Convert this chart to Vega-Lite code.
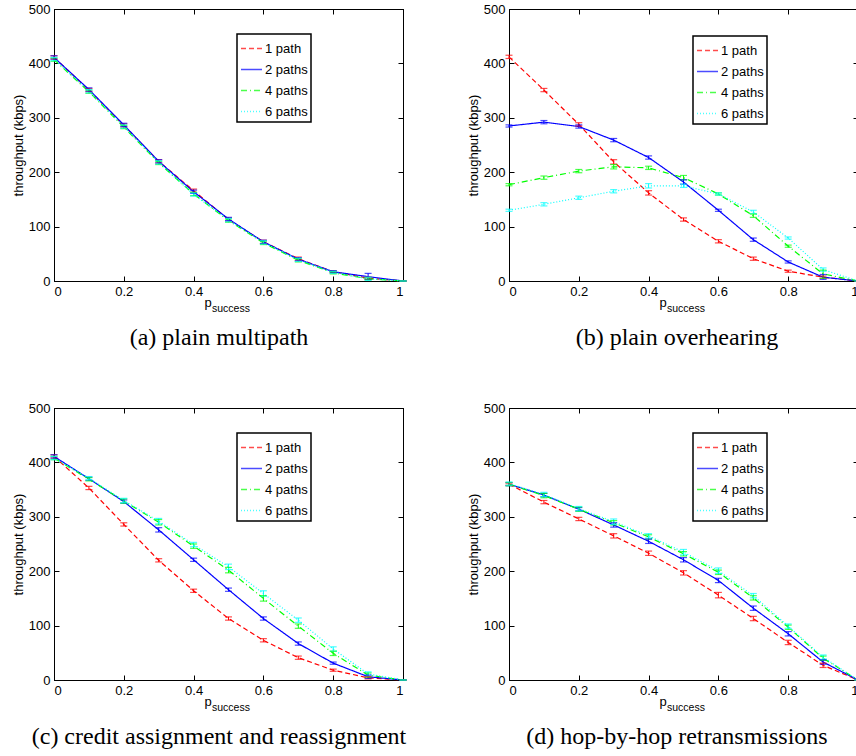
{
 "$schema": "https://vega.github.io/schema/vega-lite/v6.json",
 "padding": {"left": 11, "top": 2, "right": 0, "bottom": 0},
 "background": "white",
 "datasets": {
  "A": [
   {"x":0,"s":"1 path","y":411,"lo":408,"hi":414},{"x":0.1,"s":"1 path","y":351,"lo":348,"hi":354},{"x":0.2,"s":"1 path","y":286,"lo":283,"hi":289},{"x":0.3,"s":"1 path","y":220,"lo":217,"hi":223},{"x":0.4,"s":"1 path","y":166,"lo":163,"hi":169},{"x":0.5,"s":"1 path","y":113,"lo":110,"hi":116},{"x":0.6,"s":"1 path","y":72,"lo":69,"hi":75},{"x":0.7,"s":"1 path","y":41,"lo":38,"hi":44},{"x":0.8,"s":"1 path","y":17,"lo":15,"hi":19},{"x":0.9,"s":"1 path","y":5,"lo":3,"hi":7},{"x":1,"s":"1 path","y":0,"lo":0,"hi":0},
   {"x":0,"s":"2 paths","y":411,"lo":408,"hi":414},{"x":0.1,"s":"2 paths","y":352,"lo":349,"hi":355},{"x":0.2,"s":"2 paths","y":287,"lo":284,"hi":290},{"x":0.3,"s":"2 paths","y":220,"lo":217,"hi":223},{"x":0.4,"s":"2 paths","y":164,"lo":161,"hi":167},{"x":0.5,"s":"2 paths","y":114,"lo":111,"hi":117},{"x":0.6,"s":"2 paths","y":72,"lo":69,"hi":75},{"x":0.7,"s":"2 paths","y":40,"lo":37,"hi":43},{"x":0.8,"s":"2 paths","y":17,"lo":15,"hi":19},{"x":0.9,"s":"2 paths","y":8,"lo":3,"hi":14},{"x":1,"s":"2 paths","y":0,"lo":0,"hi":0},
   {"x":0,"s":"4 paths","y":407,"lo":404,"hi":410},{"x":0.1,"s":"4 paths","y":348,"lo":345,"hi":351},{"x":0.2,"s":"4 paths","y":283,"lo":280,"hi":286},{"x":0.3,"s":"4 paths","y":217,"lo":214,"hi":220},{"x":0.4,"s":"4 paths","y":160,"lo":157,"hi":163},{"x":0.5,"s":"4 paths","y":111,"lo":108,"hi":114},{"x":0.6,"s":"4 paths","y":70,"lo":67,"hi":73},{"x":0.7,"s":"4 paths","y":38,"lo":35,"hi":41},{"x":0.8,"s":"4 paths","y":15,"lo":13,"hi":17},{"x":0.9,"s":"4 paths","y":4,"lo":2,"hi":6},{"x":1,"s":"4 paths","y":0,"lo":0,"hi":0},
   {"x":0,"s":"6 paths","y":408,"lo":405,"hi":411},{"x":0.1,"s":"6 paths","y":349,"lo":346,"hi":352},{"x":0.2,"s":"6 paths","y":284,"lo":281,"hi":287},{"x":0.3,"s":"6 paths","y":218,"lo":215,"hi":221},{"x":0.4,"s":"6 paths","y":159,"lo":156,"hi":162},{"x":0.5,"s":"6 paths","y":112,"lo":109,"hi":115},{"x":0.6,"s":"6 paths","y":71,"lo":68,"hi":74},{"x":0.7,"s":"6 paths","y":39,"lo":36,"hi":42},{"x":0.8,"s":"6 paths","y":16,"lo":14,"hi":18},{"x":0.9,"s":"6 paths","y":4,"lo":1,"hi":7},{"x":1,"s":"6 paths","y":0,"lo":0,"hi":0}
  ],
  "B": [
   {"x":0,"s":"1 path","y":412,"lo":409,"hi":415},{"x":0.1,"s":"1 path","y":351,"lo":348,"hi":354},{"x":0.2,"s":"1 path","y":288,"lo":285,"hi":291},{"x":0.3,"s":"1 path","y":219,"lo":215,"hi":223},{"x":0.4,"s":"1 path","y":162,"lo":158,"hi":166},{"x":0.5,"s":"1 path","y":113,"lo":110,"hi":116},{"x":0.6,"s":"1 path","y":73,"lo":70,"hi":76},{"x":0.7,"s":"1 path","y":41,"lo":38,"hi":44},{"x":0.8,"s":"1 path","y":18,"lo":16,"hi":20},{"x":0.9,"s":"1 path","y":7,"lo":5,"hi":9},{"x":1,"s":"1 path","y":0,"lo":0,"hi":0},
   {"x":0,"s":"2 paths","y":285,"lo":283,"hi":287},{"x":0.1,"s":"2 paths","y":292,"lo":289,"hi":295},{"x":0.2,"s":"2 paths","y":284,"lo":281,"hi":287},{"x":0.3,"s":"2 paths","y":259,"lo":256,"hi":262},{"x":0.4,"s":"2 paths","y":227,"lo":224,"hi":230},{"x":0.5,"s":"2 paths","y":182,"lo":178,"hi":186},{"x":0.6,"s":"2 paths","y":130,"lo":128,"hi":132},{"x":0.7,"s":"2 paths","y":76,"lo":73,"hi":79},{"x":0.8,"s":"2 paths","y":35,"lo":33,"hi":37},{"x":0.9,"s":"2 paths","y":7,"lo":3,"hi":12},{"x":1,"s":"2 paths","y":0,"lo":0,"hi":0},
   {"x":0,"s":"4 paths","y":177,"lo":175,"hi":179},{"x":0.1,"s":"4 paths","y":190,"lo":187,"hi":193},{"x":0.2,"s":"4 paths","y":202,"lo":199,"hi":205},{"x":0.3,"s":"4 paths","y":210,"lo":206,"hi":214},{"x":0.4,"s":"4 paths","y":208,"lo":205,"hi":211},{"x":0.5,"s":"4 paths","y":190,"lo":186,"hi":194},{"x":0.6,"s":"4 paths","y":160,"lo":158,"hi":162},{"x":0.7,"s":"4 paths","y":120,"lo":117,"hi":123},{"x":0.8,"s":"4 paths","y":64,"lo":62,"hi":66},{"x":0.9,"s":"4 paths","y":13,"lo":5,"hi":20},{"x":1,"s":"4 paths","y":0,"lo":0,"hi":0},
   {"x":0,"s":"6 paths","y":130,"lo":128,"hi":132},{"x":0.1,"s":"6 paths","y":141,"lo":138,"hi":144},{"x":0.2,"s":"6 paths","y":153,"lo":150,"hi":156},{"x":0.3,"s":"6 paths","y":165,"lo":162,"hi":168},{"x":0.4,"s":"6 paths","y":175,"lo":171,"hi":179},{"x":0.5,"s":"6 paths","y":175,"lo":172,"hi":178},{"x":0.6,"s":"6 paths","y":160,"lo":158,"hi":162},{"x":0.7,"s":"6 paths","y":127,"lo":124,"hi":130},{"x":0.8,"s":"6 paths","y":79,"lo":77,"hi":81},{"x":0.9,"s":"6 paths","y":21,"lo":18,"hi":24},{"x":1,"s":"6 paths","y":0,"lo":0,"hi":0}
  ],
  "C": [
   {"x":0,"s":"1 path","y":411,"lo":408,"hi":414},{"x":0.1,"s":"1 path","y":353,"lo":350,"hi":356},{"x":0.2,"s":"1 path","y":286,"lo":283,"hi":289},{"x":0.3,"s":"1 path","y":220,"lo":217,"hi":223},{"x":0.4,"s":"1 path","y":164,"lo":161,"hi":167},{"x":0.5,"s":"1 path","y":113,"lo":110,"hi":116},{"x":0.6,"s":"1 path","y":73,"lo":70,"hi":76},{"x":0.7,"s":"1 path","y":41,"lo":38,"hi":44},{"x":0.8,"s":"1 path","y":18,"lo":16,"hi":20},{"x":0.9,"s":"1 path","y":4,"lo":2,"hi":6},{"x":1,"s":"1 path","y":0,"lo":0,"hi":0},
   {"x":0,"s":"2 paths","y":411,"lo":408,"hi":414},{"x":0.1,"s":"2 paths","y":370,"lo":367,"hi":373},{"x":0.2,"s":"2 paths","y":328,"lo":325,"hi":331},{"x":0.3,"s":"2 paths","y":276,"lo":272,"hi":280},{"x":0.4,"s":"2 paths","y":221,"lo":218,"hi":224},{"x":0.5,"s":"2 paths","y":166,"lo":163,"hi":169},{"x":0.6,"s":"2 paths","y":113,"lo":110,"hi":116},{"x":0.7,"s":"2 paths","y":67,"lo":64,"hi":70},{"x":0.8,"s":"2 paths","y":31,"lo":29,"hi":33},{"x":0.9,"s":"2 paths","y":6,"lo":3,"hi":9},{"x":1,"s":"2 paths","y":0,"lo":0,"hi":0},
   {"x":0,"s":"4 paths","y":408,"lo":405,"hi":411},{"x":0.1,"s":"4 paths","y":369,"lo":366,"hi":372},{"x":0.2,"s":"4 paths","y":329,"lo":325,"hi":333},{"x":0.3,"s":"4 paths","y":290,"lo":285,"hi":295},{"x":0.4,"s":"4 paths","y":246,"lo":242,"hi":250},{"x":0.5,"s":"4 paths","y":202,"lo":197,"hi":207},{"x":0.6,"s":"4 paths","y":150,"lo":145,"hi":155},{"x":0.7,"s":"4 paths","y":99,"lo":95,"hi":103},{"x":0.8,"s":"4 paths","y":49,"lo":45,"hi":53},{"x":0.9,"s":"4 paths","y":9,"lo":5,"hi":13},{"x":1,"s":"4 paths","y":0,"lo":0,"hi":0},
   {"x":0,"s":"6 paths","y":408,"lo":405,"hi":411},{"x":0.1,"s":"6 paths","y":371,"lo":368,"hi":374},{"x":0.2,"s":"6 paths","y":330,"lo":326,"hi":334},{"x":0.3,"s":"6 paths","y":292,"lo":287,"hi":297},{"x":0.4,"s":"6 paths","y":249,"lo":245,"hi":253},{"x":0.5,"s":"6 paths","y":208,"lo":203,"hi":213},{"x":0.6,"s":"6 paths","y":159,"lo":154,"hi":164},{"x":0.7,"s":"6 paths","y":110,"lo":106,"hi":114},{"x":0.8,"s":"6 paths","y":57,"lo":53,"hi":61},{"x":0.9,"s":"6 paths","y":11,"lo":7,"hi":15},{"x":1,"s":"6 paths","y":0,"lo":0,"hi":0}
  ],
  "D": [
   {"x":0,"s":"1 path","y":360,"lo":358,"hi":362},{"x":0.1,"s":"1 path","y":327,"lo":324,"hi":330},{"x":0.2,"s":"1 path","y":296,"lo":293,"hi":299},{"x":0.3,"s":"1 path","y":265,"lo":261,"hi":269},{"x":0.4,"s":"1 path","y":233,"lo":229,"hi":237},{"x":0.5,"s":"1 path","y":197,"lo":193,"hi":201},{"x":0.6,"s":"1 path","y":156,"lo":151,"hi":161},{"x":0.7,"s":"1 path","y":113,"lo":109,"hi":117},{"x":0.8,"s":"1 path","y":69,"lo":65,"hi":73},{"x":0.9,"s":"1 path","y":27,"lo":23,"hi":31},{"x":1,"s":"1 path","y":0,"lo":0,"hi":0},
   {"x":0,"s":"2 paths","y":360,"lo":357,"hi":363},{"x":0.1,"s":"2 paths","y":340,"lo":337,"hi":343},{"x":0.2,"s":"2 paths","y":314,"lo":311,"hi":317},{"x":0.3,"s":"2 paths","y":285,"lo":281,"hi":289},{"x":0.4,"s":"2 paths","y":255,"lo":251,"hi":259},{"x":0.5,"s":"2 paths","y":221,"lo":217,"hi":225},{"x":0.6,"s":"2 paths","y":183,"lo":179,"hi":187},{"x":0.7,"s":"2 paths","y":132,"lo":128,"hi":136},{"x":0.8,"s":"2 paths","y":85,"lo":81,"hi":89},{"x":0.9,"s":"2 paths","y":33,"lo":29,"hi":37},{"x":1,"s":"2 paths","y":0,"lo":0,"hi":0},
   {"x":0,"s":"4 paths","y":360,"lo":357,"hi":363},{"x":0.1,"s":"4 paths","y":339,"lo":335,"hi":343},{"x":0.2,"s":"4 paths","y":314,"lo":310,"hi":318},{"x":0.3,"s":"4 paths","y":289,"lo":285,"hi":293},{"x":0.4,"s":"4 paths","y":263,"lo":259,"hi":267},{"x":0.5,"s":"4 paths","y":232,"lo":228,"hi":236},{"x":0.6,"s":"4 paths","y":198,"lo":194,"hi":202},{"x":0.7,"s":"4 paths","y":151,"lo":147,"hi":155},{"x":0.8,"s":"4 paths","y":97,"lo":93,"hi":101},{"x":0.9,"s":"4 paths","y":40,"lo":36,"hi":44},{"x":1,"s":"4 paths","y":0,"lo":0,"hi":0},
   {"x":0,"s":"6 paths","y":361,"lo":358,"hi":364},{"x":0.1,"s":"6 paths","y":341,"lo":337,"hi":345},{"x":0.2,"s":"6 paths","y":315,"lo":311,"hi":319},{"x":0.3,"s":"6 paths","y":291,"lo":286,"hi":296},{"x":0.4,"s":"6 paths","y":265,"lo":261,"hi":269},{"x":0.5,"s":"6 paths","y":235,"lo":230,"hi":240},{"x":0.6,"s":"6 paths","y":201,"lo":196,"hi":206},{"x":0.7,"s":"6 paths","y":155,"lo":151,"hi":159},{"x":0.8,"s":"6 paths","y":99,"lo":95,"hi":103},{"x":0.9,"s":"6 paths","y":42,"lo":38,"hi":46},{"x":1,"s":"6 paths","y":0,"lo":0,"hi":0}
  ]
 },
 "spacing": 50,
 "resolve": {"legend": {"color": "independent", "strokeDash": "independent"}},
 "vconcat": [
  {"hconcat": [
   {"width": 349, "height": 272, "data": {"name": "A"},
    "title": {"text": "(a) plain multipath", "orient": "bottom", "dx": -9.5, "offset": 12},
    "layer": [
     {"mark": {"type": "line", "strokeWidth": 1.2},
      "encoding": {
       "x": {"field": "x", "type": "quantitative", "scale": {"domain": [0, 1], "nice": false}, "axis": {"orient": "bottom", "title": "p", "values": [0, 0.2, 0.4, 0.6, 0.8, 1], "format": "~g", "tickSize": -5, "labelPadding": 9, "titleX": 153.5, "titleY": 25, "titleBaseline": "alphabetic", "titleAlign": "center"}},
       "y": {"field": "y", "type": "quantitative", "scale": {"domain": [0, 500], "nice": false}, "axis": {"orient": "left", "title": "throughput (kbps)", "values": [0, 100, 200, 300, 400, 500], "tickSize": -5, "labelPadding": 9, "titlePadding": 3}},
       "color": {"field": "s", "type": "nominal", "scale": {"domain": ["1 path", "2 paths", "4 paths", "6 paths"], "range": ["#ff0000", "#0000ff", "#00ff00", "#00ffff"]}, "legend": {"legendX": 183, "legendY": 25}},
       "strokeDash": {"field": "s", "type": "nominal", "scale": {"domain": ["1 path", "2 paths", "4 paths", "6 paths"], "range": [[5, 3], [1, 0], [6, 3, 1, 3], [1, 2]]}, "legend": {"legendX": 183, "legendY": 25}}
      }},
     {"mark": {"type": "rule", "strokeWidth": 1},
      "encoding": {
       "x": {"field": "x", "type": "quantitative", "scale": {"domain": [0, 1], "nice": false}, "axis": null},
       "y": {"field": "lo", "type": "quantitative", "scale": {"domain": [0, 500], "nice": false}, "axis": null},
       "y2": {"field": "hi"},
       "color": {"field": "s", "type": "nominal"}
      }},
     {"mark": {"type": "tick", "orient": "horizontal", "size": 7, "thickness": 1.2},
      "encoding": {
       "x": {"field": "x", "type": "quantitative", "scale": {"domain": [0, 1], "nice": false}, "axis": {"orient": "bottom", "title": "success", "labels": false, "ticks": false, "domain": false, "titleFontSize": 10.5, "titleX": 176.5, "titleY": 30.5, "titleBaseline": "alphabetic", "titleAlign": "center"}},
       "y": {"field": "lo", "type": "quantitative", "scale": {"domain": [0, 500], "nice": false}, "axis": null},
       "color": {"field": "s", "type": "nominal"}
      }},
     {"mark": {"type": "tick", "orient": "horizontal", "size": 7, "thickness": 1.2},
      "encoding": {
       "x": {"field": "x", "type": "quantitative", "scale": {"domain": [0, 1], "nice": false}, "axis": {"orient": "top", "title": null, "labels": false, "values": [0, 0.2, 0.4, 0.6, 0.8, 1], "tickSize": -5}},
       "y": {"field": "hi", "type": "quantitative", "scale": {"domain": [0, 500], "nice": false}, "axis": {"orient": "right", "title": null, "labels": false, "values": [0, 100, 200, 300, 400, 500], "tickSize": -5}},
       "color": {"field": "s", "type": "nominal"}
      }}
    ],
    "resolve": {"axis": {"x": "independent", "y": "independent"}}
   },
   {"width": 349, "height": 272, "data": {"name": "B"},
    "title": {"text": "(b) plain overhearing", "orient": "bottom", "dx": -6.5, "offset": 12},
    "layer": [
     {"mark": {"type": "line", "strokeWidth": 1.2},
      "encoding": {
       "x": {"field": "x", "type": "quantitative", "scale": {"domain": [0, 1], "nice": false}, "axis": {"orient": "bottom", "title": "p", "values": [0, 0.2, 0.4, 0.6, 0.8, 1], "format": "~g", "tickSize": -5, "labelPadding": 9, "titleX": 153.5, "titleY": 25, "titleBaseline": "alphabetic", "titleAlign": "center"}},
       "y": {"field": "y", "type": "quantitative", "scale": {"domain": [0, 500], "nice": false}, "axis": {"orient": "left", "title": "throughput (kbps)", "values": [0, 100, 200, 300, 400, 500], "tickSize": -5, "labelPadding": 9, "titlePadding": 3}},
       "color": {"field": "s", "type": "nominal", "scale": {"domain": ["1 path", "2 paths", "4 paths", "6 paths"], "range": ["#ff0000", "#0000ff", "#00ff00", "#00ffff"]}, "legend": {"legendX": 184, "legendY": 27}},
       "strokeDash": {"field": "s", "type": "nominal", "scale": {"domain": ["1 path", "2 paths", "4 paths", "6 paths"], "range": [[5, 3], [1, 0], [6, 3, 1, 3], [1, 2]]}, "legend": {"legendX": 184, "legendY": 27}}
      }},
     {"mark": {"type": "rule", "strokeWidth": 1},
      "encoding": {
       "x": {"field": "x", "type": "quantitative", "scale": {"domain": [0, 1], "nice": false}, "axis": null},
       "y": {"field": "lo", "type": "quantitative", "scale": {"domain": [0, 500], "nice": false}, "axis": null},
       "y2": {"field": "hi"},
       "color": {"field": "s", "type": "nominal"}
      }},
     {"mark": {"type": "tick", "orient": "horizontal", "size": 7, "thickness": 1.2},
      "encoding": {
       "x": {"field": "x", "type": "quantitative", "scale": {"domain": [0, 1], "nice": false}, "axis": {"orient": "bottom", "title": "success", "labels": false, "ticks": false, "domain": false, "titleFontSize": 10.5, "titleX": 176.5, "titleY": 30.5, "titleBaseline": "alphabetic", "titleAlign": "center"}},
       "y": {"field": "lo", "type": "quantitative", "scale": {"domain": [0, 500], "nice": false}, "axis": null},
       "color": {"field": "s", "type": "nominal"}
      }},
     {"mark": {"type": "tick", "orient": "horizontal", "size": 7, "thickness": 1.2},
      "encoding": {
       "x": {"field": "x", "type": "quantitative", "scale": {"domain": [0, 1], "nice": false}, "axis": {"orient": "top", "title": null, "labels": false, "values": [0, 0.2, 0.4, 0.6, 0.8, 1], "tickSize": -5}},
       "y": {"field": "hi", "type": "quantitative", "scale": {"domain": [0, 500], "nice": false}, "axis": {"orient": "right", "title": null, "labels": false, "values": [0, 100, 200, 300, 400, 500], "tickSize": -5}},
       "color": {"field": "s", "type": "nominal"}
      }}
    ],
    "resolve": {"axis": {"x": "independent", "y": "independent"}}
   }
  ], "spacing": 59, "resolve": {"legend": {"color": "independent", "strokeDash": "independent"}}},
  {"hconcat": [
   {"width": 349, "height": 272, "data": {"name": "C"},
    "title": {"text": "(c) credit assignment and reassignment", "orient": "bottom", "dx": -9.5, "offset": 12},
    "layer": [
     {"mark": {"type": "line", "strokeWidth": 1.2},
      "encoding": {
       "x": {"field": "x", "type": "quantitative", "scale": {"domain": [0, 1], "nice": false}, "axis": {"orient": "bottom", "title": "p", "values": [0, 0.2, 0.4, 0.6, 0.8, 1], "format": "~g", "tickSize": -5, "labelPadding": 9, "titleX": 153.5, "titleY": 25, "titleBaseline": "alphabetic", "titleAlign": "center"}},
       "y": {"field": "y", "type": "quantitative", "scale": {"domain": [0, 500], "nice": false}, "axis": {"orient": "left", "title": "throughput (kbps)", "values": [0, 100, 200, 300, 400, 500], "tickSize": -5, "labelPadding": 9, "titlePadding": 3}},
       "color": {"field": "s", "type": "nominal", "scale": {"domain": ["1 path", "2 paths", "4 paths", "6 paths"], "range": ["#ff0000", "#0000ff", "#00ff00", "#00ffff"]}, "legend": {"legendX": 183, "legendY": 25}},
       "strokeDash": {"field": "s", "type": "nominal", "scale": {"domain": ["1 path", "2 paths", "4 paths", "6 paths"], "range": [[5, 3], [1, 0], [6, 3, 1, 3], [1, 2]]}, "legend": {"legendX": 183, "legendY": 25}}
      }},
     {"mark": {"type": "rule", "strokeWidth": 1},
      "encoding": {
       "x": {"field": "x", "type": "quantitative", "scale": {"domain": [0, 1], "nice": false}, "axis": null},
       "y": {"field": "lo", "type": "quantitative", "scale": {"domain": [0, 500], "nice": false}, "axis": null},
       "y2": {"field": "hi"},
       "color": {"field": "s", "type": "nominal"}
      }},
     {"mark": {"type": "tick", "orient": "horizontal", "size": 7, "thickness": 1.2},
      "encoding": {
       "x": {"field": "x", "type": "quantitative", "scale": {"domain": [0, 1], "nice": false}, "axis": {"orient": "bottom", "title": "success", "labels": false, "ticks": false, "domain": false, "titleFontSize": 10.5, "titleX": 176.5, "titleY": 30.5, "titleBaseline": "alphabetic", "titleAlign": "center"}},
       "y": {"field": "lo", "type": "quantitative", "scale": {"domain": [0, 500], "nice": false}, "axis": null},
       "color": {"field": "s", "type": "nominal"}
      }},
     {"mark": {"type": "tick", "orient": "horizontal", "size": 7, "thickness": 1.2},
      "encoding": {
       "x": {"field": "x", "type": "quantitative", "scale": {"domain": [0, 1], "nice": false}, "axis": {"orient": "top", "title": null, "labels": false, "values": [0, 0.2, 0.4, 0.6, 0.8, 1], "tickSize": -5}},
       "y": {"field": "hi", "type": "quantitative", "scale": {"domain": [0, 500], "nice": false}, "axis": {"orient": "right", "title": null, "labels": false, "values": [0, 100, 200, 300, 400, 500], "tickSize": -5}},
       "color": {"field": "s", "type": "nominal"}
      }}
    ],
    "resolve": {"axis": {"x": "independent", "y": "independent"}}
   },
   {"width": 349, "height": 272, "data": {"name": "D"},
    "title": {"text": "(d) hop-by-hop retransmissions", "orient": "bottom", "dx": -6.5, "offset": 12},
    "layer": [
     {"mark": {"type": "line", "strokeWidth": 1.2},
      "encoding": {
       "x": {"field": "x", "type": "quantitative", "scale": {"domain": [0, 1], "nice": false}, "axis": {"orient": "bottom", "title": "p", "values": [0, 0.2, 0.4, 0.6, 0.8, 1], "format": "~g", "tickSize": -5, "labelPadding": 9, "titleX": 153.5, "titleY": 25, "titleBaseline": "alphabetic", "titleAlign": "center"}},
       "y": {"field": "y", "type": "quantitative", "scale": {"domain": [0, 500], "nice": false}, "axis": {"orient": "left", "title": "throughput (kbps)", "values": [0, 100, 200, 300, 400, 500], "tickSize": -5, "labelPadding": 9, "titlePadding": 3}},
       "color": {"field": "s", "type": "nominal", "scale": {"domain": ["1 path", "2 paths", "4 paths", "6 paths"], "range": ["#ff0000", "#0000ff", "#00ff00", "#00ffff"]}, "legend": {"legendX": 184, "legendY": 25}},
       "strokeDash": {"field": "s", "type": "nominal", "scale": {"domain": ["1 path", "2 paths", "4 paths", "6 paths"], "range": [[5, 3], [1, 0], [6, 3, 1, 3], [1, 2]]}, "legend": {"legendX": 184, "legendY": 25}}
      }},
     {"mark": {"type": "rule", "strokeWidth": 1},
      "encoding": {
       "x": {"field": "x", "type": "quantitative", "scale": {"domain": [0, 1], "nice": false}, "axis": null},
       "y": {"field": "lo", "type": "quantitative", "scale": {"domain": [0, 500], "nice": false}, "axis": null},
       "y2": {"field": "hi"},
       "color": {"field": "s", "type": "nominal"}
      }},
     {"mark": {"type": "tick", "orient": "horizontal", "size": 7, "thickness": 1.2},
      "encoding": {
       "x": {"field": "x", "type": "quantitative", "scale": {"domain": [0, 1], "nice": false}, "axis": {"orient": "bottom", "title": "success", "labels": false, "ticks": false, "domain": false, "titleFontSize": 10.5, "titleX": 176.5, "titleY": 30.5, "titleBaseline": "alphabetic", "titleAlign": "center"}},
       "y": {"field": "lo", "type": "quantitative", "scale": {"domain": [0, 500], "nice": false}, "axis": null},
       "color": {"field": "s", "type": "nominal"}
      }},
     {"mark": {"type": "tick", "orient": "horizontal", "size": 7, "thickness": 1.2},
      "encoding": {
       "x": {"field": "x", "type": "quantitative", "scale": {"domain": [0, 1], "nice": false}, "axis": {"orient": "top", "title": null, "labels": false, "values": [0, 0.2, 0.4, 0.6, 0.8, 1], "tickSize": -5}},
       "y": {"field": "hi", "type": "quantitative", "scale": {"domain": [0, 500], "nice": false}, "axis": {"orient": "right", "title": null, "labels": false, "values": [0, 100, 200, 300, 400, 500], "tickSize": -5}},
       "color": {"field": "s", "type": "nominal"}
      }}
    ],
    "resolve": {"axis": {"x": "independent", "y": "independent"}}
   }
  ], "spacing": 59, "resolve": {"legend": {"color": "independent", "strokeDash": "independent"}}}
 ],
 "config": {
  "font": "Liberation Sans",
  "view": {"stroke": "#000", "strokeWidth": 1},
  "axis": {"labelFont": "Liberation Sans", "titleFont": "Liberation Sans", "labelFontSize": 13, "titleFontSize": 13, "titleFontWeight": "normal", "labelColor": "#000", "titleColor": "#000", "domainColor": "#000", "tickColor": "#000", "grid": false, "domainWidth": 1, "tickWidth": 1},
  "legend": {"orient": "none", "title": null, "strokeColor": "#000", "strokeWidth": 1.5, "fillColor": "#fff", "padding": 3, "symbolType": "stroke", "symbolSize": 441, "symbolStrokeWidth": 1.5, "labelFont": "Liberation Sans", "labelFontSize": 13, "labelColor": "#000", "labelOffset": 2, "rowPadding": 2},
  "title": {"font": "Liberation Serif", "fontSize": 24, "fontWeight": "normal", "color": "#000", "anchor": "middle"}
 }
}
